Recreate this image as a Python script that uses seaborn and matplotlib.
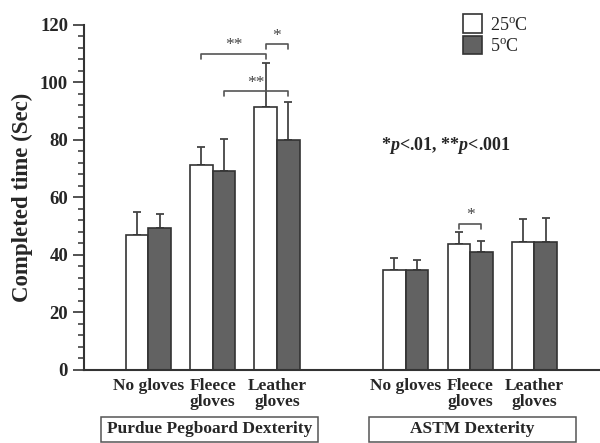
import matplotlib
matplotlib.use('Agg')
import matplotlib.pyplot as plt
from matplotlib.patches import Rectangle
from matplotlib.ticker import MultipleLocator
import numpy as np
import pandas as pd
import seaborn as sns

# categories: keys for slots on the x axis, with one empty slot between the tests
slots = ['P_no', 'P_fleece', 'P_leather', 'gap', 'A_no', 'A_fleece', 'A_leather']
conditions = ['No gloves', 'Fleece\ngloves', 'Leather\ngloves']
tests = ['Purdue Pegboard Dexterity', 'ASTM Dexterity']
temps = ['25$^\\mathrm{o}$C', '5$^\\mathrm{o}$C']

# mean completed time (sec) and SD
purdue_25 = [47.0, 71.4, 91.5]
purdue_25_sd = [8.0, 6.0, 15.2]
purdue_5 = [49.3, 69.2, 80.1]
purdue_5_sd = [5.1, 11.2, 13.2]
astm_25 = [34.8, 43.7, 44.5]
astm_25_sd = [4.3, 4.2, 8.0]
astm_5 = [34.8, 40.9, 44.5]
astm_5_sd = [3.5, 4.0, 8.2]

# significance brackets: (slot, temp) pairs and label
brackets = [(('P_fleece', 0), ('P_leather', 0), 109.9, '**'),
            (('P_leather', 0), ('P_leather', 1), 113.3, '*'),
            (('P_fleece', 1), ('P_leather', 1), 97.0, '**'),
            (('A_fleece', 0), ('A_fleece', 1), 50.8, '*')]

df = pd.DataFrame({
    'slot': ['P_no', 'P_fleece', 'P_leather'] * 2 + ['A_no', 'A_fleece', 'A_leather'] * 2,
    'temp': [temps[0]] * 3 + [temps[1]] * 3 + [temps[0]] * 3 + [temps[1]] * 3,
    'time': purdue_25 + purdue_5 + astm_25 + astm_5,
    'sd': purdue_25_sd + purdue_5_sd + astm_25_sd + astm_5_sd,
})

sns.set_style('white')
plt.rcParams['font.family'] = ['Liberation Serif', 'DejaVu Serif']
plt.rcParams['mathtext.fontset'] = 'custom'
plt.rcParams['mathtext.rm'] = 'Liberation Serif'
plt.rcParams['mathtext.it'] = 'Liberation Serif:italic'
plt.rcParams['mathtext.bf'] = 'Liberation Serif:bold'
plt.rcParams['mathtext.bfit'] = 'Liberation Serif:italic:bold'

fig = plt.figure(figsize=(6, 4.43), dpi=100)
ax = fig.add_axes([0.14, 0.1648, 0.86, 0.7788])

palette = {temps[0]: 'white', temps[1]: '#626262'}
sns.barplot(data=df, x='slot', y='time', hue='temp', order=slots, hue_order=temps,
            palette=palette, width=0.7, errorbar=None, edgecolor='#333333',
            linewidth=1.2, ax=ax, zorder=2)

pos = {s: i for i, s in enumerate(slots)}
off = [-0.175, 0.175]

def bar_x(slot, t):
    return pos[slot] + off[t]

for t, temp in enumerate(temps):
    sub = df[df['temp'] == temp]
    xs = [bar_x(s, t) for s in sub['slot']]
    ax.errorbar(xs, sub['time'], yerr=[np.zeros(len(sub)), sub['sd']], fmt='none',
                ecolor='#444444', elinewidth=1.3, capsize=3, capthick=1.3, zorder=1)

for (s1, t1), (s2, t2), h, lab in brackets:
    x1, x2 = bar_x(s1, t1), bar_x(s2, t2)
    ax.plot([x1, x1, x2, x2], [h - 1.8, h, h, h - 1.8], color='#555555', lw=1.2, zorder=3)
    ax.text((x1 + x2) / 2, h + 0.2, lab, ha='center', va='bottom', fontsize=12.5,
            color='#444444')

ax.set_xlim(-1, 7.02)
ax.set_ylim(0, 120)
ax.yaxis.set_major_locator(MultipleLocator(20))
ax.yaxis.set_minor_locator(MultipleLocator(4))
ax.tick_params(axis='y', which='major', direction='out', length=8, width=1.2,
               color='#333333', left=True, labelsize=13.5)
ax.tick_params(axis='y', which='minor', direction='out', length=4, width=1.1,
               color='#333333', left=True)
for lbl in ax.get_yticklabels():
    lbl.set_fontweight('bold')

ax.set_xticks([0, 1, 2, 4, 5, 6])
ax.set_xticklabels(conditions * 2, fontsize=12.5, fontweight='bold', linespacing=1.0)
ax.tick_params(axis='x', length=0, pad=6)
ax.set_xlabel('')
ax.set_ylabel('Completed time (Sec)', fontsize=16.5, fontweight='bold', labelpad=5)

for side in ['top', 'right']:
    ax.spines[side].set_visible(False)
for side in ['left', 'bottom']:
    ax.spines[side].set_color('#333333')
    ax.spines[side].set_linewidth(1.5)

# test group boxes under the tick labels
trans = ax.get_xaxis_transform()
for name, x0, x1 in [(tests[0], -0.74, 2.64), (tests[1], 3.43, 6.64)]:
    ax.add_patch(Rectangle((x0, -0.21), x1 - x0, 0.075, transform=trans, fill=False,
                           edgecolor='#555555', lw=1.1, clip_on=False))
    ax.text((x0 + x1) / 2, -0.171, name, transform=trans, ha='center', va='center',
            fontsize=12.5, fontweight='bold')

ax.text(4.62, 78, '*$\\mathbfit{p}$<.01, **$\\mathbfit{p}$<.001', ha='center',
        va='center', fontsize=13, fontweight='bold')

ax.legend(loc='upper left', bbox_to_anchor=(0.772, 0.968), bbox_transform=fig.transFigure,
          frameon=False, fontsize=13, handlelength=1.05, handleheight=1.2,
          handletextpad=0.45, labelspacing=0.12, borderpad=0, borderaxespad=0)

fig.savefig('out.png', dpi=100)
